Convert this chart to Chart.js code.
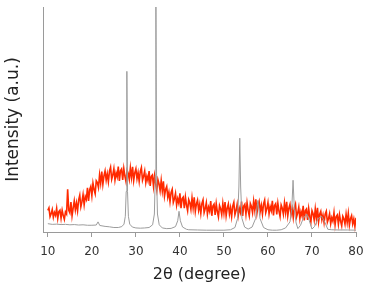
<!DOCTYPE html>
<html>
<head>
<meta charset="utf-8">
<script src="https://cdn.jsdelivr.net/npm/chart.js@4.4.1/dist/chart.umd.min.js"></script>
<style>
    html, body { margin: 0; padding: 0; background: #fff; }
    #wrap { width: 365px; height: 288px; }
</style>
</head>
<body>
<div id="wrap"><canvas id="xrdChart"></canvas></div>
<script>
// 2theta tick labels
var xTicks = [10, 20, 30, 40, 50, 60, 70, 80];

// crystalline reference pattern (gray)
var grayX = [10, 11, 12, 13, 14, 15, 16, 17, 18, 19, 20, 21, 21.4, 21.8, 23, 24, 25, 26, 26.8,
    27.3, 27.6, 27.8, 27.95, 28.1, 28.3, 28.6, 29.2, 30, 31, 32, 33, 33.8, 34.2, 34.4, 34.55, 34.7, 34.9, 35.3,
    36, 37, 38, 39, 39.5, 39.8, 40.1, 40.6, 41.5, 42, 44, 46, 48, 50, 51.5, 52.5, 53.1, 53.4, 53.6, 53.8, 54.1,
    54.7, 55.5, 56.4, 57.2, 57.7, 58.2, 59, 60, 61, 62, 63, 64, 65, 65.4, 65.7, 66.0, 66.4, 66.8, 67.4, 68,
    68.8, 69.4, 70, 70.6, 71.4, 72.2, 73, 73.6, 74.5, 76, 78, 80];
var grayY = [3.7, 3.4, 3.5, 3.3, 3.4, 3.2, 3.3, 3.1, 3.2, 3.0, 3.0, 3.1, 4.5, 2.9, 2.5, 2.3, 2.0, 2.0, 2.4,
    3.5, 7, 18, 71.4, 18, 7, 3.5, 2.2, 1.8, 1.7, 1.8, 2.0, 3.2, 8, 25, 100, 25, 8, 3.2,
    1.8, 1.5, 1.6, 2.4, 5, 9.2, 5, 2.2, 1.2, 1.0, 0.9, 0.8, 0.8, 0.8, 1.0, 2.0, 6, 20, 41.7, 20, 6,
    2.2, 1.3, 2.2, 6, 14, 6, 2.0, 1.0, 0.8, 0.8, 1.0, 1.8, 4.5, 10, 23, 10, 4, 1.5, 3, 6,
    8, 5, 1.3, 2.5, 6, 7, 4, 1.2, 1.0, 0.9, 0.9, 0.8];

// amorphous sample (red), one value every 0.25 degree starting at 10.0
var redStart = 10.0;
var redStep = 0.25;
var redY = [
                            9.6, 10.7, 6.8, 8.1,   10.0, 6.5, 8.7, 7.4,   10.5, 6.0, 9.1, 9.7,
    6.1, 9.7, 7.3, 5.6,    8.9, 8.0, 19.0, 9.6,   8.5, 13.3, 7.2, 10.6,  13.8, 9.8, 12.9, 9.4,
    14.3, 16.4, 11.2, 13.5, 16.6, 12.1, 15.8, 14.5, 19.6, 13.8, 18.8, 20.2, 16.1, 21.7, 18.9, 17.0,
    22.8, 22.0, 19.8, 25.4, 21.7, 26.9, 21.2, 24.9, 27.1, 23.0, 25.9, 22.3, 27.0, 28.8, 23.4, 25.3,
    28.1, 23.1, 26.3, 24.5, 29.1, 22.7, 27.2, 28.0, 23.1, 28.2, 24.8, 22.4, 27.4, 26.1, 23.4, 28.5,
    24.2, 29.0, 22.9, 26.3, 28.1, 23.7, 26.4, 22.5, 26.9, 28.6, 23.0, 24.8, 27.1, 21.9, 24.8, 22.8,
    27.1, 20.5, 24.7, 25.3, 20.3, 25.0, 21.3, 18.5, 23.3, 21.5, 18.3, 22.9, 18.2, 22.5, 15.9, 18.9,
    20.2, 15.4, 17.7, 13.5, 17.6, 19.0, 13.1, 14.7, 17.1, 11.9, 14.8, 12.8, 17.2, 10.6, 14.9, 15.5,
    10.6, 15.5, 11.9, 9.4,  14.4, 13.0, 10.1, 15.1, 10.7, 15.4, 9.2, 12.5,  14.2, 9.7, 12.3, 8.3,
    12.7, 14.3, 8.6, 10.4,  13.0, 7.9, 11.0, 9.2,   13.7, 7.2, 11.6, 12.4,  7.6, 12.6, 9.1, 6.7,
    11.8, 10.4, 7.7, 12.7,  8.5, 13.3, 7.2, 10.6,   12.4, 8.0, 10.8, 6.9,   11.5, 13.2, 7.7, 9.5,
    12.3, 7.3, 10.5, 8.7,   13.5, 7.1, 11.6, 12.4,  7.9, 13.0, 9.6, 7.2,    12.6, 11.3, 8.6, 13.7,
    9.7, 14.5, 8.4, 11.8,   13.6, 9.2, 11.9, 8.0,   12.5, 14.2, 8.6, 10.4,  13.1, 8.1, 11.3, 9.5,
    13.9, 7.4, 11.8, 12.6,  7.8, 12.8, 9.3, 6.9,    12.0, 10.6, 7.9, 12.9,  8.7, 13.4, 7.2, 10.6,
    12.3, 7.8, 10.4, 6.4,   10.8, 12.4, 6.7, 8.4,   11.0, 5.9, 9.0, 7.1,    11.6, 5.1, 9.5, 10.2,
    5.4, 10.4, 6.9, 4.4,    9.5, 8.1, 5.3, 10.3,    6.0, 10.7, 4.5, 7.9,    9.2, 5.4, 7.6, 4.1,
    7.9, 9.2, 4.4, 5.9,     8.1, 3.7, 6.4, 4.8,     8.6, 3.2, 6.9, 7.6,     3.5, 7.7, 4.8, 2.7,
    7.0, 5.9, 3.5, 7.9,     4.2, 8.3, 3.0, 5.9,     7.3, 3.6, 5.8, 2.4,     6.3
];

var grayPoints = grayX.map((x, i) => ({ x: x, y: grayY[i] }));
var redPoints = redY.map((y, i) => ({ x: redStart + i * redStep, y: y }));

var axisColor = "#9a9a9a";

new Chart(document.getElementById("xrdChart"), {
    type: "line",
    data: {
        datasets: [{
            label: "reference",
            data: grayPoints,
            borderColor: "#9c9c9c",
            borderWidth: 1,
            pointRadius: 0,
            tension: 0
        }, {
            label: "sample",
            data: redPoints,
            borderColor: "#ff2a00",
            borderWidth: 1.6,
            pointRadius: 0,
            tension: 0
        }]
    },
    options: {
        responsive: true,
        maintainAspectRatio: false,
        animation: false,
        layout: { padding: { top: 7, right: 9, left: 0, bottom: 0 } },
        plugins: {
            legend: { display: false },
            tooltip: { enabled: false }
        },
        scales: {
            x: {
                type: "linear",
                min: 8.9,
                max: 80,
                afterBuildTicks: function (scale) {
                    scale.ticks = xTicks.map(v => ({ value: v }));
                },
                afterFit: function (scale) {
                    scale.height = 56;
                    // keep the plot edges where the picture has them
                    scale.paddingLeft = 0;
                    scale.paddingRight = 0;
                },
                grid: { drawOnChartArea: false, drawTicks: true, tickLength: 5, color: axisColor },
                border: { display: true, color: axisColor },
                ticks: {
                    padding: 8,
                    maxRotation: 0,
                    color: "#333",
                    font: { family: "DejaVu Sans", size: 12 }
                },
                title: {
                    display: true,
                    text: "2θ (degree)",
                    color: "#222",
                    padding: { top: 0, bottom: 4 },
                    font: { family: "DejaVu Sans", size: 16 }
                }
            },
            y: {
                min: 0,
                max: 100,
                afterFit: function (scale) { scale.width = 43; },
                grid: { drawOnChartArea: false, drawTicks: false },
                border: { display: true, color: axisColor },
                ticks: { display: false },
                title: {
                    display: true,
                    text: "Intensity (a.u.)",
                    color: "#222",
                    padding: { top: 3, bottom: 0 },
                    font: { family: "DejaVu Sans", size: 17 }
                }
            }
        }
    }
});
</script>
</body>
</html>
